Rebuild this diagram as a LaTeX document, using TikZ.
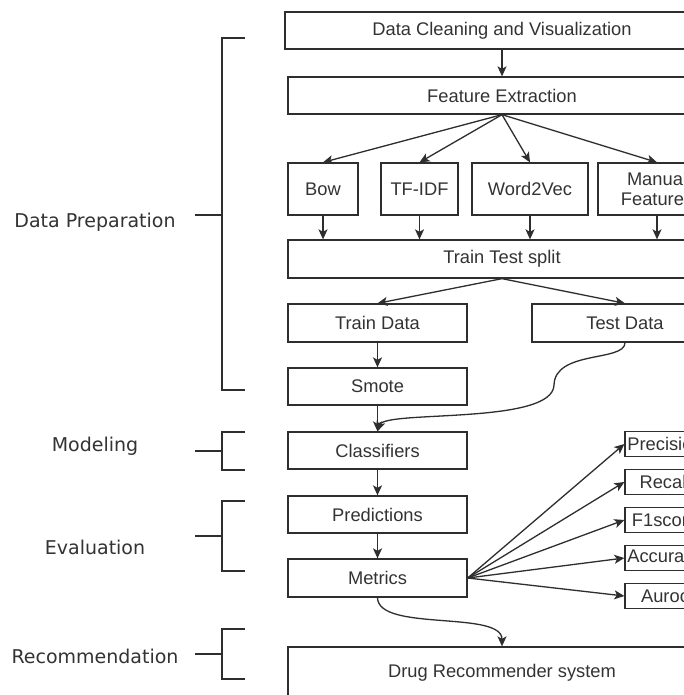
\documentclass[tikz,border=0pt]{standalone}
\usepackage{fontspec}
\setmainfont{Liberation Sans}
\newfontfamily\labelfont{DejaVu Sans}
\usetikzlibrary{arrows.meta}
\definecolor{ln}{HTML}{2E2E2E}
\definecolor{tx}{HTML}{333333}
\begin{document}
\begin{tikzpicture}[x=1pt,y=-1pt,
  box/.style={draw=ln, line width=1.3pt, fill=white, text=tx,
    font=\fontsize{18.3}{19.5}\selectfont, inner sep=0pt, align=center},
  mbox/.style={box, minimum width=80pt, minimum height=25pt},
  arr/.style={draw=ln, line width=1.3pt, -{Stealth[length=10pt,width=9pt,inset=2.5pt]}},
  brk/.style={draw=ln, line width=1.3pt},
  lab/.style={text=tx, font=\labelfont\fontsize{19}{21}\selectfont, inner sep=0pt}]
\useasboundingbox (0,0) rectangle (684,695);
\clip (0,0) rectangle (684,695);
\fill[white] (0,0) rectangle (684,695);

% main column
\node[box, minimum width=434pt, minimum height=37pt] (dc) at (502,30.5) {Data Cleaning and Visualization};
\node[box, minimum width=428pt, minimum height=37pt] (fe) at (502,95.5) {Feature Extraction};
\node[box, minimum width=70pt, minimum height=52pt] (bow) at (323,189) {Bow};
\node[box, minimum width=77pt, minimum height=52pt] (tfidf) at (419.5,189) {TF-IDF};
\node[box, minimum width=116pt, minimum height=52pt] (w2v) at (530,189) {Word2Vec};
\node[box, minimum width=118pt, minimum height=52pt] (man) at (657,189) {Manual\\Features};
\node[box, minimum width=428pt, minimum height=38pt] (tts) at (502,259) {Train Test split};
\node[box, minimum width=179pt, minimum height=38pt] (train) at (377.5,323) {Train Data};
\node[box, minimum width=186pt, minimum height=38pt] (test) at (625,323) {Test Data};
\node[box, minimum width=179pt, minimum height=37pt] (smote) at (377.5,386.5) {Smote};
\node[box, minimum width=179pt, minimum height=37pt] (cls) at (377.5,450.5) {Classifiers};
\node[box, minimum width=179pt, minimum height=37pt] (pred) at (377.5,514.5) {Predictions};
\node[box, minimum width=179pt, minimum height=38pt] (met) at (377.5,578) {Metrics};
\node[mbox] (prec) at (665,444) {Precision};
\node[mbox] (rec) at (665,482) {Recall};
\node[mbox] (f1) at (665,520) {F1score};
\node[mbox] (acc) at (665,558) {Accuracy};
\node[mbox] (aur) at (665,596) {Auroc};
\node[box, minimum width=428pt, minimum height=52pt] (drs) at (502,673) {Drug Recommender system};

% connectors
\draw[arr] (dc.south) -- (fe.north);
\foreach \n in {bow,tfidf,w2v,man}{
  \draw[arr] (fe.south) -- (\n.north);
  \draw[arr] (\n.south) -- (\n.south |- tts.north);
}
\draw[arr] (tts.south) -- (train.north);
\draw[arr] (tts.south) -- (test.north);
\draw[arr] (train.south) -- (smote.north);
\draw[arr] (smote.south) -- (cls.north);
\draw[arr] (test.south) .. controls (625,362) and (555,350) .. (554,385)
                        .. controls (553,425) and (385,410) .. (cls.north);
\draw[arr] (cls.south) -- (pred.north);
\draw[arr] (pred.south) -- (met.north);
\foreach \n in {prec,rec,f1,acc,aur}{
  \draw[arr] (met.east) -- (\n.west);
}
\draw[arr] (met.south) .. controls (378,632) and (502,610) .. (drs.north);

% left labels with brackets
\node[lab] (ldp) at (95,222) {Data Preparation};
\node[lab] (lmo) at (95,446) {Modeling};
\node[lab] (lev) at (95,547) {Evaluation};
\node[lab] (lre) at (95,656) {Recommendation};

\draw[brk] (245,38) -- (222,38) -- (222,390) -- (245,390);
\draw[brk] (195,215) -- (222,215);
\draw[brk] (245,432) -- (222,432) -- (222,470) -- (245,470);
\draw[brk] (195,451) -- (222,451);
\draw[brk] (245,501) -- (222,501) -- (222,571) -- (245,571);
\draw[brk] (195,536) -- (222,536);
\draw[brk] (245,629) -- (222,629) -- (222,679) -- (245,679);
\draw[brk] (195,654) -- (222,654);
\end{tikzpicture}
\end{document}
